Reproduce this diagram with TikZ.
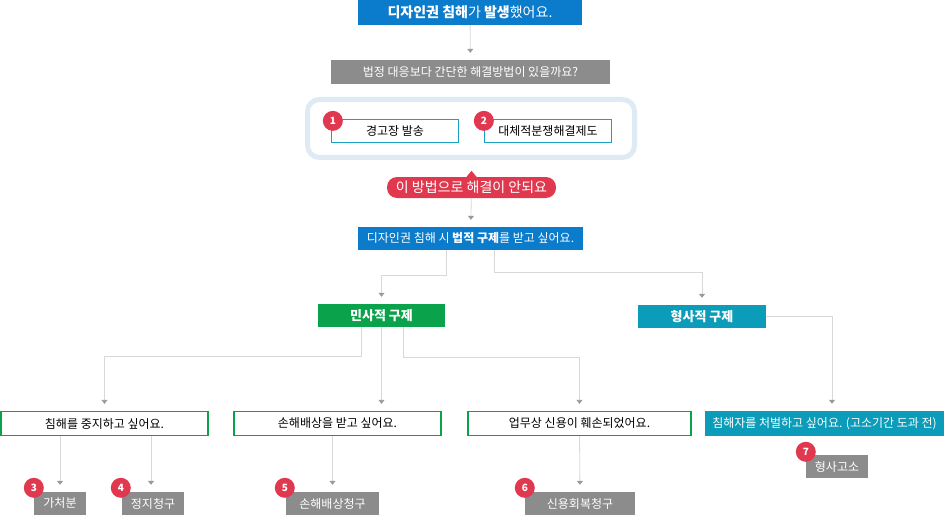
\documentclass[tikz,border=0pt]{standalone}
\usepackage{fontspec}
\setmainfont{Noto Sans CJK KR}
\usetikzlibrary{positioning, arrows.meta, calc}

\definecolor{titleblue}{HTML}{0B7BCB}
\definecolor{boxgray}{HTML}{8C8C8C}
\definecolor{frameblue}{HTML}{DFEAF5}
\definecolor{tealline}{HTML}{1AA0C0}
\definecolor{badgered}{HTML}{E0394F}
\definecolor{civilgreen}{HTML}{0AA24B}
\definecolor{crimteal}{HTML}{0B9CB9}
\definecolor{linegray}{HTML}{D8D8D8}
\definecolor{tipgray}{HTML}{9A9A9A}

\begin{document}
\begin{tikzpicture}[x=1pt, y=-1pt,
                    bluebox/.style={rectangle, fill=titleblue, text=white, inner sep=0pt, minimum height=24pt, font=\fontsize{12}{14}\selectfont},
                    graybox/.style={rectangle, fill=boxgray, text=white, inner sep=0pt, minimum height=23pt, font=\fontsize{12}{14}\selectfont},
                    optbox/.style={rectangle, draw=tealline, line width=1.3pt, fill=white, inner sep=0pt, minimum width=127pt, minimum height=23pt, font=\fontsize{12}{14}\selectfont},
                    wishbox/.style={rectangle, draw=civilgreen, line width=1.3pt, fill=white, inner sep=0pt, minimum height=24pt, font=\fontsize{12}{14}\selectfont},
                    headbox/.style={rectangle, text=white, inner sep=0pt, minimum width=127pt, minimum height=23pt, font=\fontsize{13}{15}\selectfont\bfseries},
                    badge/.style={circle, fill=badgered, text=white, inner sep=0pt, minimum size=20pt, font=\fontsize{10}{11}\selectfont\bfseries},
                    pill/.style={rectangle, fill=badgered, text=white, rounded corners=10pt, inner sep=0pt, minimum width=169pt, minimum height=21pt, font=\fontsize{14}{15}\selectfont},
                    conn/.style={draw=linegray, line width=0.8pt, -{Triangle[length=4pt, width=6pt, color=tipgray]}, shorten >=7pt}]

    \useasboundingbox (0,0) rectangle (945,516);

    % Nodes
    \node[bluebox, minimum width=224pt, minimum height=25pt, font=\fontsize{14}{16}\selectfont] (title) at (470,12.5) {{\bfseries 디자인권 침해}가 {\bfseries 발생}했어요.};
    \node[graybox, minimum width=279pt, minimum height=24pt] (question) at (470.5,72) {법정 대응보다 간단한 해결방법이 있을까요?};

    \node[draw=frameblue, line width=5pt, rounded corners=12pt, minimum width=327pt, minimum height=58pt] (frame) at (471,128.5) {};
    \node[optbox] (warning) at (395,131) {경고장 발송};
    \node[optbox] (adr) at (548,131) {대체적분쟁해결제도};
    \node[badge] (b1) at ([shift={(2,2)}]warning.north west) {1};
    \node[badge] (b2) at ([shift={(0,2)}]adr.north west) {2};

    \node[pill] (fail) at (471.5,187.5) {이 방법으로 해결이 안되요};
    \fill[badgered] ([xshift=-5pt]fail.north) -- ([shift={(0,-6)}]fail.north) -- ([xshift=5pt]fail.north) -- cycle;

    \node[bluebox, minimum width=225pt, minimum height=23pt] (legal) at (470.5,238.5) {디자인권 침해 시 {\bfseries 법적 구제}를 받고 싶어요.};

    \node[headbox, fill=civilgreen] (civil) at (381.5,315.5) {민사적 구제};
    \node[headbox, fill=crimteal, minimum width=128pt] (criminal) at (702,316.5) {형사적 구제};

    \node[wishbox, minimum width=207pt] (stop) at (104.5,423.5) {침해를 중지하고 싶어요.};
    \node[wishbox, minimum width=207pt] (damage) at (337.5,423.5) {손해배상을 받고 싶어요.};
    \node[wishbox, minimum width=223pt] (credit) at (579.5,423.5) {업무상 신용이 훼손되었어요.};
    \node[bluebox, fill=crimteal, minimum width=239pt, minimum height=25pt] (punish) at (824.5,423.5) {침해자를 처벌하고 싶어요. (고소기간 도과 전)};

    \node[graybox, minimum width=52pt] (injunct) at (60,503.5) {가처분};
    \node[graybox, minimum width=62pt] (halt) at (153,503.5) {정지청구};
    \node[graybox, minimum width=93pt] (compens) at (332.5,503.5) {손해배상청구};
    \node[graybox, minimum width=110pt] (restore) at (580,503.5) {신용회복청구};
    \node[graybox, minimum width=62pt] (complaint) at (837,466.5) {형사고소};

    \node[badge] (b3) at ([shift={(0,-4)}]injunct.north west) {3};
    \node[badge] (b4) at ([shift={(-1,-4)}]halt.north west) {4};
    \node[badge] (b5) at ([shift={(-1,-4)}]compens.north west) {5};
    \node[badge] (b6) at ([shift={(0,-4)}]restore.north west) {6};
    \node[badge] (b7) at ([shift={(0,-3)}]complaint.north west) {7};

    % Paths
    \draw[conn] (title) -- (question);
    \draw[conn] (fail) -- (legal);
    \draw[conn] ([xshift=-24.5pt]legal.south) -- ++(0,25) -| (civil.north);
    \draw[conn] ([xshift=24pt]legal.south) -- ++(0,22) -| (criminal.north);
    \draw[conn] ([xshift=-20.5pt]civil.south) -- ++(0,29) -| (stop.north);
    \draw[conn] (civil.south) -- (civil.south |- damage.north);
    \draw[conn] ([xshift=21.5pt]civil.south) -- ++(0,30) -| (credit.north);
    \draw[conn] (criminal.east) -| ([xshift=7.5pt]punish.north);
    \draw[conn] (injunct.north |- stop.south) -- (injunct.north);
    \draw[conn] ([xshift=-2pt]halt.north |- stop.south) -- ([xshift=-2pt]halt.north);
    \draw[conn] (compens.north |- damage.south) -- (compens.north);
    \draw[conn] (credit.south) -- (restore.north);

\end{tikzpicture}
\end{document}
